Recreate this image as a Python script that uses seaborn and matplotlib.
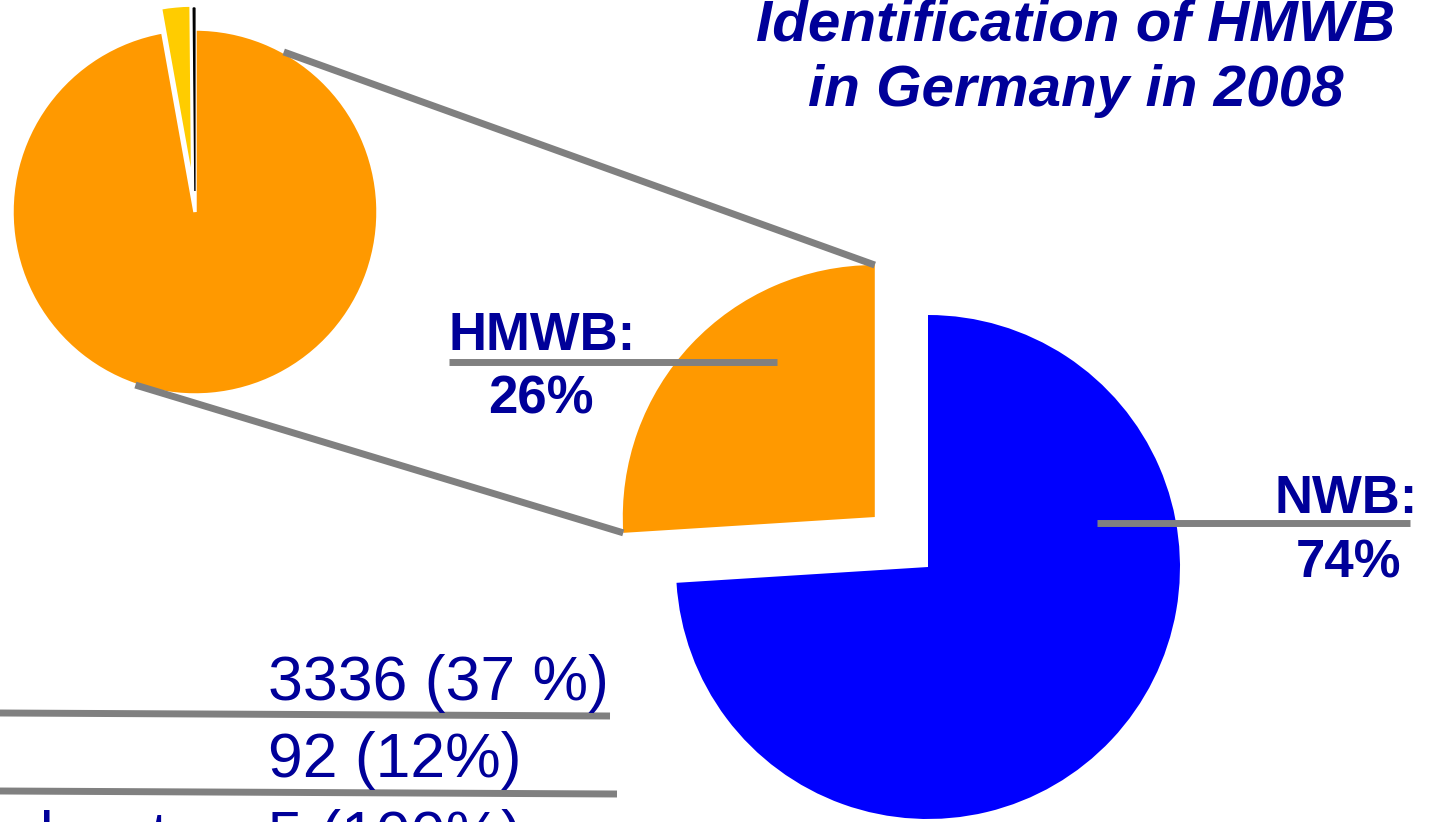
import numpy as np
import matplotlib
matplotlib.use("Agg")
import matplotlib.pyplot as plt
import seaborn as sns

# ------------------------------------
# Data
# ------------------------------------

main_labels = ["HMWB", "NWB"]
main_share = [26, 74]

hmwb_types = ["Transitional water", "Lakes", "Rivers"]
hmwb_counts = [5, 92, 3336]

# only the last row's name reaches into the visible area
table_values = ["3336 (37 %)", "92 (12%)", "5 (100%)"]
table_last_name = "Transitional water"

title_lines = ["Identification of HMWB", "in Germany in 2008"]

# ------------------------------------
# Style
# ------------------------------------

sns.set_theme(style="white")
plt.rcParams["font.family"] = ["Liberation Sans", "DejaVu Sans"]

W, H = 1431, 822
TEXT = "#000099"
GREY = "#808080"

main_colors = ["#FF9900", "#0000FF"]
small_colors = ["#000000", "#FFCC00", "#FF9900"]


def Y(py):
    # pixel row -> data y (y axis points up)
    return H - py


fig = plt.figure(figsize=(W / 100, H / 100), dpi=100)
ax = fig.add_axes([0, 0, 1, 1])

# ------------------------------------
# Main pie (HMWB vs NWB)
# ------------------------------------

main_wedges, _ = ax.pie(
    main_share,
    colors=main_colors,
    startangle=90,
    counterclock=True,
    center=(928, Y(567)),
    radius=252,
    explode=[73, 0],
    wedgeprops=dict(linewidth=0)
)

# ------------------------------------
# Small pie (HMWB by water type)
# ------------------------------------

small_wedges, _ = ax.pie(
    hmwb_counts,
    colors=small_colors,
    startangle=90,
    counterclock=True,
    center=(195, Y(212)),
    radius=183,
    explode=[21, 24, 0],
    wedgeprops=dict(edgecolor="white", linewidth=2.5)
)

small_wedges[0].set_edgecolor("black")
small_wedges[0].set_linewidth(1.0)
small_wedges[0].set_zorder(3)

ax.set_xlim(0, W)
ax.set_ylim(0, H)
ax.set_aspect("equal")
ax.axis("off")

# ------------------------------------
# Connector lines
# ------------------------------------

hw = main_wedges[0]
hcx, hcy = hw.center
scx, scy = small_wedges[2].center
sr = small_wedges[2].r

for a_small, a_main in [(61, hw.theta1), (251, hw.theta2)]:
    p0 = (scx + sr * np.cos(np.radians(a_small)),
          scy + sr * np.sin(np.radians(a_small)))
    p1 = (hcx + hw.r * np.cos(np.radians(a_main)),
          hcy + hw.r * np.sin(np.radians(a_main)))
    ax.plot([p0[0], p1[0]], [p0[1], p1[1]],
            color=GREY, lw=5, solid_capstyle="butt", zorder=4)

# ------------------------------------
# Labels
# ------------------------------------

ax.plot([449, 777], [Y(362), Y(362)], color=GREY, lw=5,
        solid_capstyle="butt", zorder=4)
ax.text(449, Y(350), f"{main_labels[0]}:", ha="left", va="baseline",
        fontsize=38, fontweight="bold", color=TEXT, zorder=5)
ax.text(541, Y(413), f"{main_share[0]}%", ha="center", va="baseline",
        fontsize=38, fontweight="bold", color=TEXT, zorder=5)

ax.plot([1097, 1410], [Y(523), Y(523)], color=GREY, lw=5,
        solid_capstyle="butt", zorder=4)
ax.text(1418, Y(513), f"{main_labels[1]}:", ha="right", va="baseline",
        fontsize=38, fontweight="bold", color=TEXT, zorder=5)
ax.text(1348, Y(577), f"{main_share[1]}%", ha="center", va="baseline",
        fontsize=38, fontweight="bold", color=TEXT, zorder=5)

# ------------------------------------
# Title
# ------------------------------------

for line, base in zip(title_lines, [40, 106]):
    ax.text(1076, Y(base), line, ha="center", va="baseline",
            fontsize=42, fontweight="bold", fontstyle="italic",
            color=TEXT)

# ------------------------------------
# Table of HMWB counts per water type
# ------------------------------------

for base, value in zip([700, 777, 855], table_values):
    ax.text(268, Y(base), value, ha="left", va="baseline",
            fontsize=45, color=TEXT)

ax.text(224, Y(855), table_last_name, ha="right", va="baseline",
        fontsize=45, color=TEXT)

for y0, y1, x1 in [(713, 716, 610), (791, 794, 617)]:
    ax.plot([0, x1], [Y(y0), Y(y1)], color=GREY, lw=5,
            solid_capstyle="butt")

fig.savefig("out.png", dpi=100)
